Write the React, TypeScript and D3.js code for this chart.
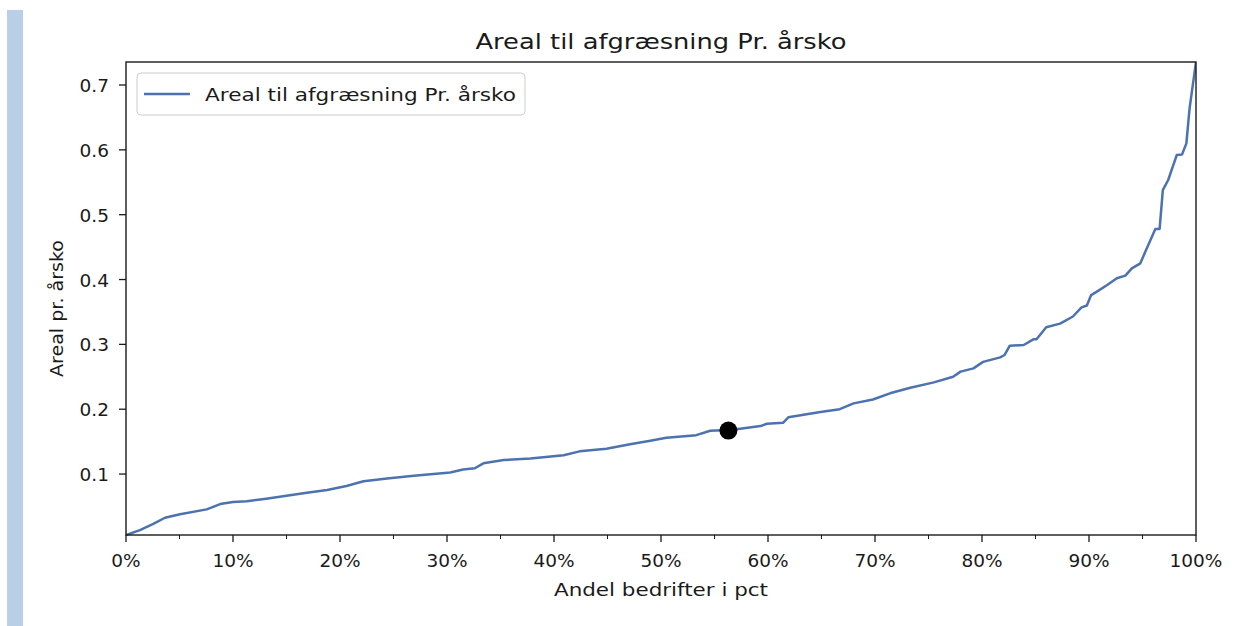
import React from "react";
import * as d3 from "d3";

const pctValues = [0, 1.3, 2.55, 3.64, 5.05, 7.54, 8.8, 10.0, 11.3, 13.1, 15.0, 16.9, 18.8, 20.6, 22.2, 24.4, 26.9, 30.3, 31.5, 32.6, 33.4, 35.3, 37.8, 40.9, 42.4, 44.9, 47.1, 49.0, 50.5, 53.3, 54.6, 56.3, 57.4, 59.3, 59.9, 61.4, 61.9, 64.9, 66.7, 68.0, 69.8, 71.4, 73.3, 75.5, 77.3, 78.0, 79.2, 80.1, 81.7, 82.1, 82.6, 83.9, 84.8, 85.1, 86.0, 87.3, 88.5, 89.3, 89.8, 90.2, 90.7, 91.7, 92.6, 93.4, 94.0, 94.8, 95.2, 96.2, 96.6, 96.9, 97.4, 98.2, 98.7, 99.1, 99.4, 100];
const arealValues = [0.006, 0.0136, 0.023, 0.0326, 0.038, 0.0455, 0.0537, 0.0568, 0.058, 0.062, 0.0665, 0.071, 0.0753, 0.0815, 0.089, 0.093, 0.0975, 0.1025, 0.107, 0.109, 0.1165, 0.1216, 0.124, 0.129, 0.135, 0.139, 0.146, 0.1514, 0.156, 0.16, 0.1668, 0.168, 0.17, 0.174, 0.1776, 0.179, 0.1875, 0.1957, 0.2, 0.209, 0.215, 0.2245, 0.233, 0.2414, 0.25, 0.258, 0.263, 0.273, 0.28, 0.2836, 0.298, 0.299, 0.3078, 0.3078, 0.3263, 0.332, 0.343, 0.357, 0.36, 0.376, 0.381, 0.3915, 0.402, 0.406, 0.4173, 0.425, 0.4405, 0.478, 0.478, 0.538, 0.5535, 0.592, 0.593, 0.61, 0.664, 0.7355];
const markerPct = 56.3;
const markerValue = 0.167;
const xTicks = [0, 10, 20, 30, 40, 50, 60, 70, 80, 90, 100];
const xMinorTicks = [5, 15, 25, 35, 45, 55, 65, 75, 85, 95];
const yTicks = [0.1, 0.2, 0.3, 0.4, 0.5, 0.6, 0.7];
const title = "Areal til afgræsning Pr. årsko";
const legendLabel = "Areal til afgræsning Pr. årsko";
const xLabel = "Andel bedrifter i pct";
const yLabel = "Areal pr. årsko";

const W = 1234;
const H = 626;
const L = 126, R = 1196, T = 62, B = 535;
const FONT = "'DejaVu Sans', sans-serif";
const LINE = "#4c72b0";
const INK = "#1a1a1a";

export default function App() {
  const x = d3.scaleLinear().domain([0, 100]).range([L, R]);
  const y = d3.scaleLinear().domain([d3.min(arealValues)!, d3.max(arealValues)!]).range([B, T]);
  const pts = pctValues.map((p, i) => [p, arealValues[i]] as [number, number]);
  const line = d3.line<[number, number]>().x(d => x(d[0])).y(d => y(d[1]));
  return (
    <svg width={W} height={H} style={{ position: "absolute", left: 0, top: 0, background: "#fff" }}
      fontFamily={FONT}>
      <rect x={7} y={10} width={16} height={616} fill="#b9cfe8" />
      <text x={(L + R) / 2} y={49} textAnchor="middle" fontSize={21} fill={INK}
        textLength={371} lengthAdjust="spacingAndGlyphs">{title}</text>
      <defs>
        <clipPath id="pc"><rect x={L} y={T - 2} width={R - L} height={B - T + 4} /></clipPath>
      </defs>
      <path d={line(pts)!} fill="none" stroke={LINE} strokeWidth={2.5} clipPath="url(#pc)" strokeLinejoin="round" />
      <circle cx={x(markerPct)} cy={y(markerValue)} r={9} fill="#000" />
      <rect x={L} y={T} width={R - L} height={B - T} fill="none" stroke={INK} strokeWidth={1.4} />
      {xTicks.map(t => (
        <g key={"x" + t}>
          <line x1={x(t)} x2={x(t)} y1={B} y2={B + 7} stroke={INK} strokeWidth={1.3} />
          <text x={x(t)} y={567} textAnchor="middle" fontSize={18.5} fill={INK}>{t + "%"}</text>
        </g>
      ))}
      {xMinorTicks.map(t => (
        <line key={"m" + t} x1={x(t)} x2={x(t)} y1={B} y2={B + 4} stroke={INK} strokeWidth={1} />
      ))}
      {yTicks.map(t => (
        <g key={"y" + t}>
          <line x1={L - 7} x2={L} y1={y(t)} y2={y(t)} stroke={INK} strokeWidth={1.3} />
          <text x={109} y={y(t) + 7} textAnchor="end" fontSize={18.5} fill={INK}>{t.toFixed(1)}</text>
        </g>
      ))}
      <text x={(L + R) / 2} y={596} textAnchor="middle" fontSize={18.5} fill={INK}
        textLength={214} lengthAdjust="spacingAndGlyphs">{xLabel}</text>
      <text transform={`translate(63,${(240 + 377) / 2}) rotate(-90)`} textAnchor="middle" fontSize={18.5} fill={INK}
        textLength={137} lengthAdjust="spacingAndGlyphs">{yLabel}</text>
      <rect x={137} y={73} width={388} height={42} rx={4} fill="#fff" fillOpacity={0.8} stroke="#ccc" strokeWidth={1} />
      <line x1={144} x2={190} y1={94} y2={94} stroke={LINE} strokeWidth={2.5} />
      <text x={205} y={101} fontSize={18.5} fill={INK} textLength={311} lengthAdjust="spacingAndGlyphs">{legendLabel}</text>
    </svg>
  );
}
